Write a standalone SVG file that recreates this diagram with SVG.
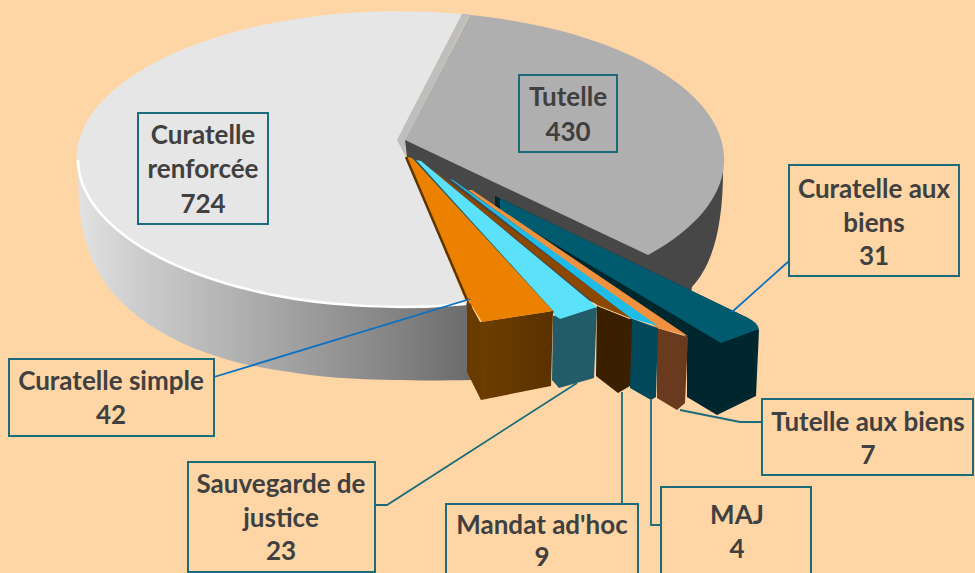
<svg xmlns="http://www.w3.org/2000/svg" width="975" height="573" viewBox="0 0 975 573">
  <defs>
    <!-- shading of the outer wall of the large slice, light on the left, dark towards the cut -->
    <linearGradient id="wallGrey" gradientUnits="userSpaceOnUse" x1="78" y1="0" x2="472" y2="0">
      <stop offset="0" stop-color="#E2E2E2"/>
      <stop offset="0.15" stop-color="#CDCDCD"/>
      <stop offset="0.5" stop-color="#A6A6A6"/>
      <stop offset="0.85" stop-color="#7E7E7E"/>
      <stop offset="1" stop-color="#6A6A6A"/>
    </linearGradient>
    <linearGradient id="wallOrange" gradientUnits="userSpaceOnUse" x1="467" y1="0" x2="553" y2="0">
      <stop offset="0" stop-color="#714000"/>
      <stop offset="1" stop-color="#5A3100"/>
    </linearGradient>
  </defs>
  <style>
    .lbl text { font-family: Lato, "Liberation Sans", sans-serif; font-weight: 700; font-size: 26px; fill: #404040; text-anchor: middle; }
    .box { fill: none; stroke: #1B6B7B; stroke-width: 2; }
    .lead { fill: none; stroke: #1B6B7B; stroke-width: 1.8; }
    .lead.blue { stroke: #0A70C4; }
  </style>

  <rect width="975" height="573" fill="#FED6A5"/>

  <!-- Curatelle renforcée (large light slice) -->
  <g id="slice-curatelle-renforcee">
    <path fill="url(#wallGrey)" d="M78,160 C78,200 80,225 86,242 C105,315 190,360 290,372 C340,381 420,381 472,380 L472,303 A323,148 0 0,1 78,160 Z"/>
    <path fill="#E6E6E6" d="M397,140 L462,14 A323,148 0 1,0 466,304 L407,157 Z"/>
    <path fill="none" stroke="#FFFFFF" stroke-width="2.5" d="M78,160 A323,148 0 0,0 466,304"/>
    <path fill="#BEBEBE" d="M462,14 L470,14 L405,140 L406,157 L397,140 Z"/>
  </g>

  <!-- Tutelle -->
  <g id="slice-tutelle">
    <path fill="#474747" d="M405,140 L600,100 L723,160 C724,220 715,262 692,287 L690,300 L640,320 L480,260 L407,158 Z"/>
    <path fill="#AFAFAF" d="M405,140 L470,15 A323,148 0 0,1 648,255 Z"/>
  </g>

  <!-- exploded small slices, back to front -->
  <g id="slice-curatelle-aux-biens">
    <path fill="#00262E" d="M495,196 L748,318 L759,330 L756,396 L717,415 L687,397 L687,337 L495,214 Z"/>
    <path fill="#005B6E" d="M500,198.5 L748,318 Q757,322 759,329 L721,343 L500,211.5 Z"/>
  </g>

  <g id="slice-tutelle-aux-biens">
    <path fill="#6A3A1E" d="M657,328 L688,337 L685,403 L677,410 L657,398 Z"/>
    <path fill="#F0913F" d="M468,190 L472,190 L688,336 L657,328 Z"/>
  </g>

  <g id="slice-maj">
    <path fill="#00485A" d="M630,318 L658,328 L656,397 L651,400 L630,388 Z"/>
    <path fill="#1EBCE6" d="M450,179 L453,180 L658,326 L630,318 Z"/>
  </g>

  <g id="slice-mandat-ad-hoc">
    <path fill="#3A1F00" d="M597,306 L632,320 L630,386 L618,393 L596,376 Z"/>
    <path fill="#8A4800" d="M433,171 L436,172 L632,319 L597,305 Z"/>
  </g>

  <g id="slice-sauvegarde-de-justice">
    <path fill="#235B69" d="M553,316 L597,307 L594,378 L559,388 L552,380 Z"/>
    <path fill="#5CE1FA" d="M416,160 L421,161 L597,307 L560,319 L553,314 Z"/>
    <path fill="none" stroke="#1E5C6A" stroke-width="3" d="M413,159 L553,313"/>
  </g>

  <g id="slice-curatelle-simple">
    <path fill="url(#wallOrange)" d="M467,298 L480,322 L553,311 L551,386 L481,400 L467,372 Z"/>
    <path fill="#5E3300" d="M467,300 L480,322 L481,400 L467,372 Z" opacity="0.35"/>
    <path fill="#EC8100" d="M407,157 L412,158 L553,311 L482,322 L467,298 Z"/>
    <path fill="none" stroke="#5E3300" stroke-width="2.5" d="M406,157 L467,300"/>
  </g>

  <!-- leader lines -->
  <g id="connectors">
    <path class="lead blue" d="M214,377 L470,299"/>
    <path class="lead" d="M375,505 H387 L577,383"/>
    <path class="lead" d="M622,392 V504"/>
    <path class="lead" d="M651,400 V525 H661"/>
    <path class="lead" d="M680,410 L740,422 H762"/>
    <path class="lead blue" d="M789,261 L732,312"/>
  </g>

  <!-- data labels -->
  <g id="label-curatelle-renforcee" class="lbl">
    <rect class="box" x="138" y="113" width="130" height="111"/>
    <text x="203" y="144">Curatelle</text>
    <text x="203" y="178">renforcée</text>
    <text x="203" y="213">724</text>
  </g>
  <g id="label-tutelle" class="lbl">
    <rect class="box" x="519" y="75" width="98" height="77"/>
    <text x="568" y="106">Tutelle</text>
    <text x="568" y="141">430</text>
  </g>
  <g id="label-curatelle-aux-biens" class="lbl">
    <rect class="box" x="789" y="165" width="170" height="111"/>
    <text x="874" y="198">Curatelle aux</text>
    <text x="874" y="232">biens</text>
    <text x="874" y="265">31</text>
  </g>
  <g id="label-curatelle-simple" class="lbl">
    <rect class="box" x="9" y="359" width="205" height="77"/>
    <text x="111" y="390">Curatelle simple</text>
    <text x="111" y="424">42</text>
  </g>
  <g id="label-sauvegarde-de-justice" class="lbl">
    <rect class="box" x="188" y="462" width="187" height="110"/>
    <text x="281" y="493">Sauvegarde de</text>
    <text x="281" y="527">justice</text>
    <text x="281" y="560">23</text>
  </g>
  <g id="label-mandat-ad-hoc" class="lbl">
    <rect class="box" x="446" y="504" width="192" height="80"/>
    <text x="542" y="534">Mandat ad'hoc</text>
    <text x="542" y="566">9</text>
  </g>
  <g id="label-maj" class="lbl">
    <rect class="box" x="661" y="487" width="150" height="100"/>
    <text x="737" y="524">MAJ</text>
    <text x="737" y="558">4</text>
  </g>
  <g id="label-tutelle-aux-biens" class="lbl">
    <rect class="box" x="762" y="399" width="211" height="76"/>
    <text x="868" y="431">Tutelle aux biens</text>
    <text x="868" y="464">7</text>
  </g>
</svg>
